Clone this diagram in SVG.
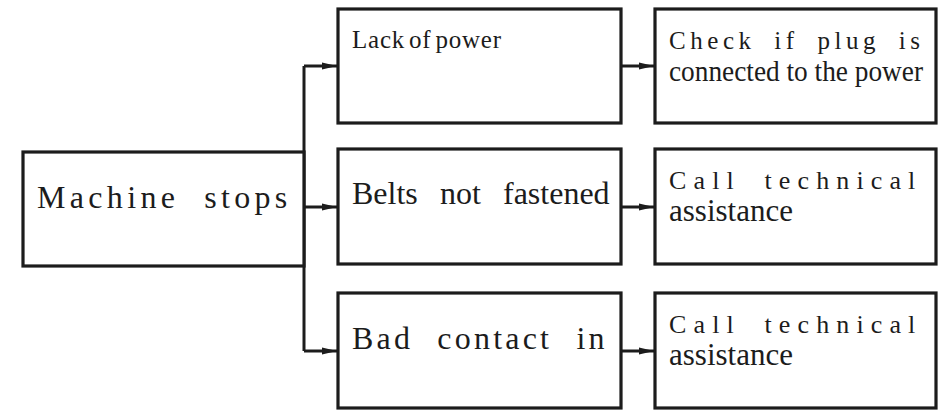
<svg xmlns="http://www.w3.org/2000/svg" width="944" height="411" viewBox="0 0 944 411">
<style>
.box{fill:#fff;stroke:#1c1c1c;stroke-width:3.2}
.ln{fill:none;stroke:#1c1c1c;stroke-width:3}
text{font-family:"Liberation Serif","Times New Roman",serif;fill:#1c1c1c}
</style>
<defs>
<marker id="ah" markerUnits="userSpaceOnUse" markerWidth="15" markerHeight="8" refX="15" refY="4" orient="auto">
<path d="M0,0.5 L15,4 L0,7.5 Z" fill="#1c1c1c"/>
</marker>
</defs>
<rect width="944" height="411" fill="#fff"/>
<g id="connectors">
<path class="ln" d="M304,66 V351"/>
<path class="ln" d="M304,66 H337" marker-end="url(#ah)"/>
<path class="ln" d="M304,207 H337" marker-end="url(#ah)"/>
<path class="ln" d="M304,351 H337" marker-end="url(#ah)"/>
<path class="ln" d="M621,66 H654" marker-end="url(#ah)"/>
<path class="ln" d="M621,207 H654" marker-end="url(#ah)"/>
<path class="ln" d="M621,351 H654" marker-end="url(#ah)"/>
</g>
<g id="machine">
<rect class="box" x="23" y="152" width="281" height="114"/>
<text x="37" y="208" font-size="32" letter-spacing="4.7" word-spacing="12.6" textLength="255" lengthAdjust="spacing">Machine stops</text>
</g>
<g id="lack">
<rect class="box" x="338" y="9" width="283" height="114"/>
<text x="352" y="48" font-size="25" word-spacing="-3" textLength="149" lengthAdjust="spacing">Lack of power</text>
</g>
<g id="belts">
<rect class="box" x="338" y="149" width="283" height="115"/>
<text y="204" font-size="32"><tspan x="352">Belts</tspan><tspan x="440">not</tspan><tspan x="503">fastened</tspan></text>
</g>
<g id="bad">
<rect class="box" x="338" y="293" width="283" height="115"/>
<text x="352" y="349" font-size="32" letter-spacing="3.5" word-spacing="13" textLength="256" lengthAdjust="spacing">Bad contact in</text>
</g>
<g id="check">
<rect class="box" x="655" y="9" width="281" height="114"/>
<text x="669" y="49" font-size="25" letter-spacing="4.9" word-spacing="8" textLength="256" lengthAdjust="spacing">Check if plug is</text>
<text x="669" y="81" font-size="29" textLength="254" lengthAdjust="spacingAndGlyphs">connected to the power</text>
</g>
<g id="call1">
<rect class="box" x="655" y="149" width="281" height="115"/>
<text x="669" y="189" font-size="26" letter-spacing="7.7" word-spacing="10" textLength="254" lengthAdjust="spacing">Call technical</text>
<text x="669" y="221" font-size="31">assistance</text>
</g>
<g id="call2">
<rect class="box" x="655" y="293" width="281" height="115"/>
<text x="669" y="333" font-size="26" letter-spacing="7.7" word-spacing="10" textLength="254" lengthAdjust="spacing">Call technical</text>
<text x="669" y="365" font-size="31">assistance</text>
</g>
</svg>
